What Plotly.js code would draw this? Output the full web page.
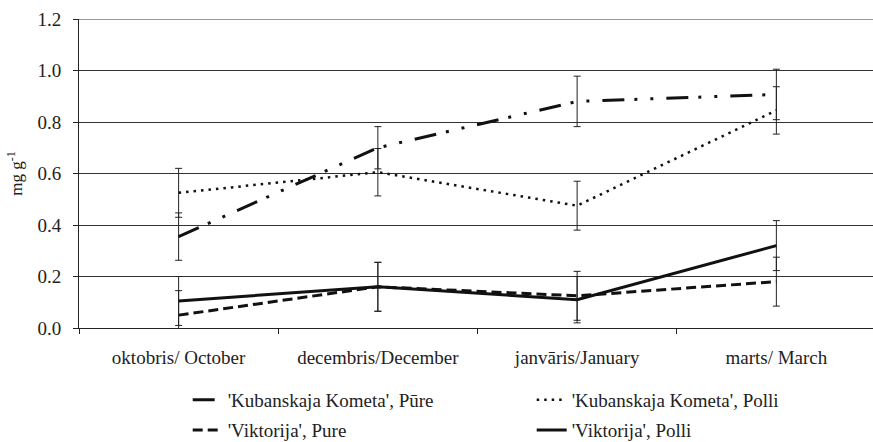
<!DOCTYPE html>
<html><head><meta charset="utf-8">
<script src="https://cdn.plot.ly/plotly-3.0.1.min.js"></script>
<style>html,body{margin:0;padding:0;background:#fff}#c{width:873px;height:442px}</style>
</head><body><div id="c"></div>
<script>
var months = ['oktobris/ October', 'decembris/December', 'janvāris/January', 'marts/ March'];
var seriesNames = ["'Kubanskaja Kometa', Pūre", "'Kubanskaja Kometa', Polli", "'Viktorija', Pure", "'Viktorija', Polli"];
var kkPure = [0.355, 0.70, 0.88, 0.907];
var kkPureErr = [0.092, 0.082, 0.098, 0.098];
var kkPolli = [0.525, 0.605, 0.475, 0.845];
var kkPolliErr = [0.095, 0.092, 0.095, 0.092];
var vPure = [0.05, 0.16, 0.125, 0.18];
var vPureErr = [0.095, 0.095, 0.095, 0.095];
var vPolli = [0.105, 0.16, 0.11, 0.32];
var vPolliErr = [0.095, 0.095, 0.09, 0.097];

var font = 'Liberation Serif';
function tr(name, y, err, dash, width, leg) {
  return {
    x: months, y: y, name: name, type: 'scatter', mode: 'lines', legend: leg,
    line: {color: '#111', width: width, dash: dash},
    error_y: {type: 'data', array: err, visible: true, color: '#222', thickness: 1, width: 3.5}
  };
}
var data = [
  tr(seriesNames[0], kkPure, kkPureErr, '22px,10px,3px,13px,3px,13px', 3, 'legend'),
  tr(seriesNames[1], kkPolli, kkPolliErr, '2.5px,5px', 2.5, 'legend'),
  tr(seriesNames[2], vPure, vPureErr, '10px,5px', 3, 'legend2'),
  tr(seriesNames[3], vPolli, vPolliErr, 'solid', 3, 'legend2')
];
function leg(y) {
  return {orientation: 'h', xref: 'container', yref: 'container', x: 0.215, y: y,
          xanchor: 'left', yanchor: 'middle',
          entrywidth: 299, entrywidthmode: 'pixels', bgcolor: 'rgba(0,0,0,0)',
          font: {family: font, size: 19, color: '#222'}};
}
var layout = {
  width: 873, height: 442,
  margin: {l: 79, r: 0, t: 19, b: 114, autoexpand: false},
  paper_bgcolor: '#fff', plot_bgcolor: '#fff',
  font: {family: font, size: 19, color: '#222'},
  showlegend: true,
  legend: leg(0.095),
  legend2: leg(0.027),
  xaxis: {
    type: 'category', range: [-0.5, 3.485],
    showline: true, linecolor: '#222', linewidth: 1,
    ticks: 'outside', tickson: 'boundaries', ticklen: 5, tickcolor: '#222',
    showgrid: false, zeroline: false, ticklabelstandoff: 12,
    tickfont: {family: font, size: 19, color: '#222'}
  },
  yaxis: {
    range: [0, 1.2], dtick: 0.2, tickformat: '.1f',
    showline: true, linecolor: '#222', linewidth: 1,
    ticks: 'outside', ticklen: 5, tickcolor: '#222',
    showgrid: true, gridcolor: '#333', gridwidth: 1, zeroline: false,
    ticklabelstandoff: 8,
    tickfont: {family: font, size: 19, color: '#222'},
    title: {text: 'mg g<sup>-1</sup>', font: {family: font, size: 17, color: '#222'}, standoff: 10}
  },
  shapes: [{type: 'line', xref: 'paper', yref: 'y', x0: 0, x1: 1, y0: 1.2, y1: 1.2, line: {color: '#333', width: 1}}]
};
Plotly.newPlot('c', data, layout, {staticPlot: true});
</script></body></html>
